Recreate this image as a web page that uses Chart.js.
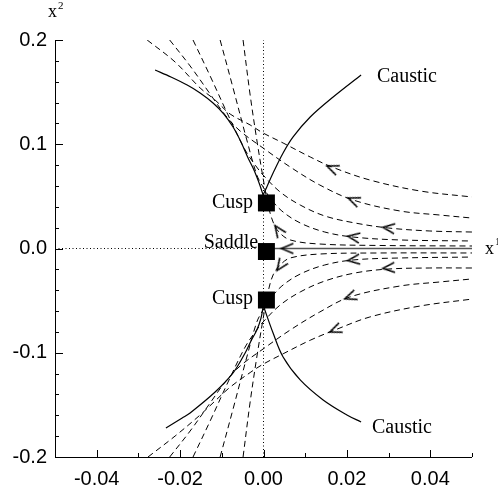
<!DOCTYPE html>
<html><head><meta charset="utf-8">
<script src="https://cdn.jsdelivr.net/npm/chart.js@4/dist/chart.umd.min.js"></script>
<style>html,body{margin:0;padding:0;background:#fff;}#wrap{width:498px;height:492px;}</style>
</head><body><div id="wrap"><canvas id="c" width="498" height="492"></canvas></div>
<script>
// ---- tick values / labels ----
const xTickValues = [-0.04, -0.02, 0, 0.02, 0.04];
const xTickLabels = ['-0.04', '-0.02', '0.00', '0.02', '0.04'];
const xMinorTicks = [-0.03, -0.01, 0.01, 0.03, 0.05];
const yTickValues = [-0.2, -0.1, 0, 0.1, 0.2];
const yTickLabels = ['-0.2', '-0.1', '0.0', '0.1', '0.2'];
const yMinorTicks = [-0.18,-0.16,-0.14,-0.12,-0.08,-0.06,-0.04,-0.02,0.02,0.04,0.06,0.08,0.12,0.14,0.16,0.18];

// ---- caustics (solid) ----
const causticUpperLeft = [[-0.0260,0.1712],[-0.0222,0.1645],[-0.0183,0.1568],[-0.0152,0.1492],[-0.0121,0.1396],[-0.0095,0.1290],[-0.0073,0.1165],[-0.0054,0.1022],[-0.0037,0.0868],[-0.0025,0.0772],[-0.0016,0.0686],[-0.0008,0.0600],[-0.0001,0.0513]];
const causticUpperRight = [[-0.0001,0.0513],[0.0008,0.0590],[0.0023,0.0724],[0.0047,0.0916],[0.0071,0.1070],[0.0112,0.1261],[0.0167,0.1453],[0.0234,0.1664]];
const causticLowerLeft = [[-0.0234,-0.1722],[-0.0195,-0.1626],[-0.0176,-0.1578],[-0.0116,-0.1377],[-0.0073,-0.1194],[-0.0044,-0.1002],[-0.0030,-0.0887],[-0.0016,-0.0782],[-0.0006,-0.0667],[-0.0001,-0.0561]];
const causticLowerRight = [[-0.0001,-0.0542],[0.0023,-0.0811],[0.0047,-0.1041],[0.0088,-0.1261],[0.0143,-0.1453],[0.0200,-0.1597],[0.0234,-0.1664]];

// ---- rays (dashed) ----
const rayU1 = [[-0.0279,0.2],[-0.0212,0.1789],[-0.0152,0.1540],[-0.0116,0.1424],[-0.0080,0.1290],[-0.0032,0.1185],[-0.0001,0.1108],[0.0047,0.1012],[0.0112,0.0878],[0.0164,0.0782],[0.0255,0.0657],[0.0375,0.0552],[0.0500,0.0494]];
const rayU2 = [[-0.0225,0.2],[-0.0176,0.1751],[-0.0128,0.1482],[-0.0092,0.1281],[-0.0056,0.1127],[-0.0001,0.0964],[0.0064,0.0782],[0.0135,0.0609],[0.0215,0.0465],[0.0327,0.0360],[0.0423,0.0321],[0.0500,0.0292]];
const rayU3 = [[-0.0169,0.2],[-0.0128,0.1655],[-0.0085,0.1281],[-0.0044,0.0945],[-0.0020,0.0801],[-0.0001,0.0705],[0.0040,0.0542],[0.0088,0.0417],[0.0147,0.0312],[0.0219,0.0245],[0.0299,0.0197],[0.0399,0.0168],[0.0500,0.0158]];
const rayU4 = [[-0.0104,0.2],[-0.0073,0.1540],[-0.0040,0.1041],[-0.0016,0.0705],[-0.0001,0.0590],[0.0016,0.0484],[0.0044,0.0360],[0.0088,0.0245],[0.0147,0.0158],[0.0215,0.0110],[0.0327,0.0082],[0.0500,0.0072]];
const rayU5 = [[-0.0049,0.2],[-0.0032,0.1472],[-0.0016,0.1041],[-0.0001,0.0676],[0.0011,0.0417],[0.0023,0.0254],[0.0037,0.0158],[0.0064,0.0082],[0.0135,0.0043],[0.0279,0.0029],[0.0500,0.0024]];
const rayL1 = [[-0.0277,-0.2],[-0.0212,-0.1799],[-0.0152,-0.1597],[-0.0116,-0.1462],[-0.0080,-0.1330],[-0.0032,-0.1190],[-0.0001,-0.1110],[0.0047,-0.1010],[0.0112,-0.0880],[0.0171,-0.0782],[0.0255,-0.0657],[0.0375,-0.0552],[0.0500,-0.0485]];
const rayL2 = [[-0.0225,-0.2],[-0.0176,-0.1751],[-0.0128,-0.1482],[-0.0092,-0.1281],[-0.0056,-0.1127],[-0.0001,-0.0964],[0.0064,-0.0782],[0.0135,-0.0609],[0.0207,-0.0465],[0.0327,-0.0360],[0.0423,-0.0321],[0.0500,-0.0292]];
const rayL3 = [[-0.0169,-0.2],[-0.0128,-0.1655],[-0.0085,-0.1281],[-0.0044,-0.0945],[-0.0020,-0.0801],[-0.0001,-0.0705],[0.0040,-0.0542],[0.0088,-0.0417],[0.0147,-0.0312],[0.0219,-0.0235],[0.0299,-0.0197],[0.0399,-0.0187],[0.0500,-0.0187]];
const rayL4 = [[-0.0104,-0.2],[-0.0073,-0.1540],[-0.0040,-0.1041],[-0.0016,-0.0705],[-0.0001,-0.0590],[0.0016,-0.0484],[0.0044,-0.0360],[0.0088,-0.0245],[0.0147,-0.0158],[0.0215,-0.0110],[0.0327,-0.0091],[0.0500,-0.0082]];
const rayL5 = [[-0.0049,-0.2],[-0.0032,-0.1472],[-0.0016,-0.1041],[-0.0001,-0.0676],[0.0011,-0.0417],[0.0023,-0.0254],[0.0040,-0.0158],[0.0064,-0.0091],[0.0135,-0.0053],[0.0279,-0.0043],[0.0500,-0.0043]];

// ---- reference lines ----
const axisSolid = [[0,0],[0.05,0]];
const axisDottedH = [[-0.05,0],[0,0]];
const axisDottedV = [[0,-0.2],[0,0.2]];

// ---- special points ----
const specialPoints = [[0.0007,0.0437],[0.0007,-0.0029],[0.0007,-0.0494]];

// ---- arrows (position + direction in degrees) ----
const arrowPoints = [[0.0164,0.0772],[0.0215,0.0465],[0.0299,0.0197],[0.0215,0.0110],[0.0035,0.0177],
                     [0.0171,-0.0782],[0.0207,-0.0465],[0.0299,-0.0187],[0.0215,-0.0110],[0.0040,-0.0168],
                     [0.0056,0]];
const arrowAngles = [22,22,7,9,55,-22,-20,-5,-7,-55,0];

// ---- text labels ----
const labels = [
  {text:'Cusp', x:-0.0025, y:0.0388, align:'right'},
  {text:'Saddle', x:-0.0013, y:0.0005, align:'right'},
  {text:'Cusp', x:-0.0025, y:-0.0532, align:'right'},
  {text:'Caustic', x:0.0272, y:0.1597, align:'left'},
  {text:'Caustic', x:0.0260, y:-0.1770, align:'left'}
];

function toXY(a){ return a.map(p => ({x:p[0], y:p[1]})); }

function makeChevron(){
  const c = document.createElement('canvas');
  c.width = 15; c.height = 14;
  const g = c.getContext('2d');
  g.strokeStyle = '#000'; g.lineWidth = 1.4;
  g.beginPath(); g.moveTo(14,2); g.lineTo(2,7); g.lineTo(14,12); g.stroke();
  return c;
}
const chevron = makeChevron();

const solid = (d) => ({data:toXY(d), showLine:true, borderColor:'#000', borderWidth:1.2, pointRadius:0, tension:0.35, fill:false, order:3});
const dashed = (d) => ({data:toXY(d), showLine:true, borderColor:'#000', borderWidth:1, borderDash:[6,4], pointRadius:0, tension:0.35, fill:false, order:4});
const dotted = (d) => ({data:toXY(d), showLine:true, borderColor:'#000', borderWidth:1, borderDash:[1,2.5], pointRadius:0, tension:0, fill:false, order:5});

const datasets = [
  {data:toXY(specialPoints), showLine:false, pointStyle:'rect', pointRadius:12, pointHoverRadius:12, backgroundColor:'#000', borderWidth:0, order:0},
  {data:toXY(arrowPoints), showLine:false, pointStyle:chevron, pointRotation:arrowAngles, order:1},
  solid(causticUpperLeft), solid(causticUpperRight), solid(causticLowerLeft), solid(causticLowerRight),
  dashed(rayU1), dashed(rayU2), dashed(rayU3), dashed(rayU4), dashed(rayU5),
  dashed(rayL1), dashed(rayL2), dashed(rayL3), dashed(rayL4), dashed(rayL5),
  dotted(axisDottedH), dotted(axisDottedV),
  {data:toXY(axisSolid), showLine:true, borderColor:'#555', borderWidth:1.6, pointRadius:0, tension:0, order:2}
];

const decor = {
  id:'decor',
  afterDatasetsDraw(chart){
    const {ctx, chartArea:a, scales:{x, y}} = chart;
    ctx.save();
    ctx.strokeStyle = '#000'; ctx.lineWidth = 1;
    ctx.beginPath();
    ctx.moveTo(a.left+0.5, a.top); ctx.lineTo(a.left+0.5, a.bottom+0.5);
    ctx.lineTo(a.right, a.bottom+0.5);
    ctx.stroke();
    ctx.beginPath();
    yTickValues.forEach(v => { const p = Math.round(y.getPixelForValue(v))+0.5; ctx.moveTo(a.left, p); ctx.lineTo(a.left+8, p); });
    yMinorTicks.forEach(v => { const p = Math.round(y.getPixelForValue(v))+0.5; ctx.moveTo(a.left, p); ctx.lineTo(a.left+4, p); });
    xTickValues.forEach(v => { const p = Math.round(x.getPixelForValue(v))+0.5; ctx.moveTo(p, a.bottom); ctx.lineTo(p, a.bottom-7); });
    xMinorTicks.forEach(v => { const p = Math.round(x.getPixelForValue(v))+0.5; ctx.moveTo(p, a.bottom); ctx.lineTo(p, a.bottom-4); });
    ctx.stroke();
    ctx.fillStyle = '#000';
    ctx.textBaseline = 'alphabetic';
    ctx.font = '20px "Liberation Serif", "Times New Roman", serif';
    labels.forEach(l => {
      ctx.textAlign = l.align;
      ctx.fillText(l.text, x.getPixelForValue(l.x), y.getPixelForValue(l.y));
    });
    ctx.textAlign = 'left';
    ctx.font = '18px "Liberation Serif", serif';
    ctx.fillText('x', a.left - 7, a.top - 23);
    ctx.fillText('x', a.right + 13, y.getPixelForValue(0) + 5);
    ctx.font = '11px "Liberation Serif", serif';
    ctx.fillText('2', a.left + 3, a.top - 31);
    ctx.fillText('1', a.right + 23, y.getPixelForValue(0) - 4);
    ctx.restore();
  }
};

new Chart(document.getElementById('c'), {
  type:'scatter',
  data:{datasets},
  options:{
    responsive:false, animation:false, devicePixelRatio:1,
    layout:{padding:{top:40, right:26, left:0, bottom:0}},
    plugins:{legend:{display:false}, tooltip:{enabled:false}},
    events:[],
    scales:{
      x:{type:'linear', min:-0.05, max:0.05,
         grid:{display:false, drawTicks:false}, border:{display:false},
         afterBuildTicks:(s)=>{ s.ticks = xTickValues.map(v=>({value:v})); },
         afterFit:(s)=>{ s.height = 35; },
         ticks:{padding:10, color:'#000', font:{family:'"Liberation Sans", Arial, sans-serif', size:20}, maxRotation:0, autoSkip:false,
                callback:(v,i)=> xTickLabels[i]}},
      y:{type:'linear', min:-0.2, max:0.2,
         grid:{display:false, drawTicks:false}, border:{display:false},
         afterBuildTicks:(s)=>{ s.ticks = yTickValues.map(v=>({value:v})); },
         afterFit:(s)=>{ s.width = 55; },
         ticks:{padding:8, color:'#000', font:{family:'"Liberation Sans", Arial, sans-serif', size:20}, autoSkip:false,
                callback:(v,i)=> yTickLabels[i]}}
    }
  },
  plugins:[decor]
});
</script>
</body></html>
